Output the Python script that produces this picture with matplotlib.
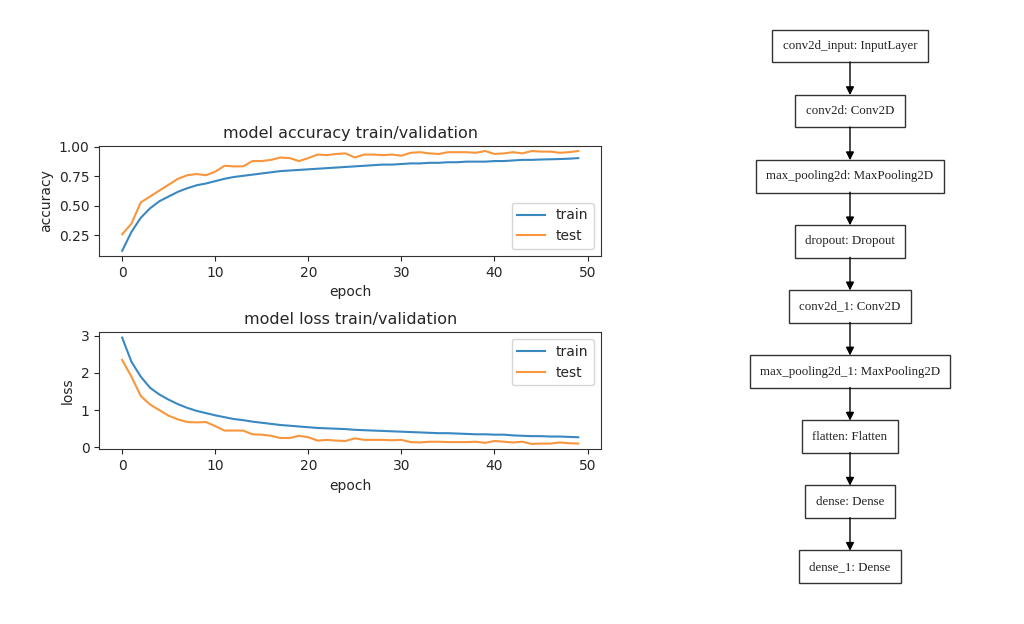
"""
Training history (accuracy / loss) next to the layer graph of the model.
"""
import numpy as np
import matplotlib.pyplot as plt

epochs = np.arange(50)

acc_train = [0.12, 0.28, 0.40, 0.48, 0.54, 0.58, 0.62, 0.65, 0.675, 0.69,
             0.71, 0.73, 0.745, 0.755, 0.765, 0.775, 0.785, 0.795, 0.80, 0.805,
             0.81, 0.815, 0.82, 0.825, 0.83, 0.835, 0.84, 0.845, 0.85, 0.85,
             0.855, 0.86, 0.86, 0.865, 0.865, 0.87, 0.87, 0.875, 0.875, 0.875,
             0.88, 0.88, 0.885, 0.89, 0.89, 0.893, 0.895, 0.897, 0.90, 0.905]
acc_test = [0.26, 0.35, 0.53, 0.58, 0.63, 0.68, 0.73, 0.76, 0.77, 0.76,
            0.79, 0.84, 0.835, 0.835, 0.88, 0.88, 0.89, 0.91, 0.905, 0.88,
            0.905, 0.935, 0.93, 0.94, 0.945, 0.91, 0.935, 0.935, 0.93, 0.935,
            0.925, 0.95, 0.955, 0.945, 0.94, 0.955, 0.955, 0.955, 0.95, 0.965,
            0.94, 0.945, 0.955, 0.945, 0.965, 0.96, 0.96, 0.95, 0.955, 0.965]
loss_train = [2.95, 2.30, 1.90, 1.60, 1.42, 1.28, 1.16, 1.06, 0.98, 0.92,
              0.86, 0.81, 0.76, 0.73, 0.69, 0.66, 0.63, 0.60, 0.58, 0.56,
              0.54, 0.52, 0.51, 0.50, 0.49, 0.47, 0.46, 0.45, 0.44, 0.43,
              0.42, 0.41, 0.40, 0.39, 0.38, 0.38, 0.37, 0.36, 0.35, 0.35,
              0.34, 0.34, 0.32, 0.31, 0.30, 0.30, 0.29, 0.29, 0.28, 0.27]
loss_test = [2.35, 1.90, 1.38, 1.15, 1.00, 0.85, 0.75, 0.68, 0.67, 0.68,
             0.57, 0.45, 0.45, 0.45, 0.35, 0.34, 0.31, 0.25, 0.25, 0.31,
             0.27, 0.18, 0.20, 0.18, 0.17, 0.24, 0.20, 0.20, 0.20, 0.19,
             0.20, 0.14, 0.13, 0.15, 0.15, 0.14, 0.14, 0.14, 0.15, 0.12,
             0.17, 0.15, 0.13, 0.15, 0.09, 0.10, 0.10, 0.13, 0.11, 0.10]

layers = ["conv2d_input: InputLayer", "conv2d: Conv2D",
          "max_pooling2d: MaxPooling2D", "dropout: Dropout",
          "conv2d_1: Conv2D", "max_pooling2d_1: MaxPooling2D",
          "flatten: Flatten", "dense: Dense", "dense_1: Dense"]

plt.rcParams["font.size"] = 10
plt.rcParams["text.color"] = "#262626"
plt.rcParams["axes.labelcolor"] = "#262626"
plt.rcParams["xtick.color"] = "#262626"
plt.rcParams["ytick.color"] = "#262626"
plt.rcParams["axes.edgecolor"] = "#333333"

blue = "#3a88c2"
orange = "#f8963e"

fig = plt.figure(figsize=(10.24, 6.24), dpi=100)

#accuracy plot
ax1 = fig.add_axes([0.097, 0.590, 0.490, 0.176])
ax1.plot(epochs, acc_train, color=blue, label="train")
ax1.plot(epochs, acc_test, color=orange, label="test")
ax1.set_title("model accuracy train/validation", fontsize=11.5)
ax1.set_ylabel("accuracy")
ax1.set_xlabel("epoch")
ax1.set_yticks([0.25, 0.5, 0.75, 1.0])
ax1.legend(loc="lower right")

#loss plot
ax2 = fig.add_axes([0.097, 0.280, 0.490, 0.1875])
ax2.plot(epochs, loss_train, color=blue, label="train")
ax2.plot(epochs, loss_test, color=orange, label="test")
ax2.set_title("model loss train/validation", fontsize=11.5)
ax2.set_ylabel("loss")
ax2.set_xlabel("epoch")
ax2.set_yticks([0, 1, 2, 3])
ax2.legend(loc="upper right")

#model graph, drawn in pixel coordinates
axg = fig.add_axes([0, 0, 1, 1])
axg.set_xlim(0, 1024)
axg.set_ylim(624, 0)
axg.axis("off")

cx = 850
step = 65.1
half = 16
for i, name in enumerate(layers):
    cy = 46 + i * step
    axg.text(cx, cy, name, ha="center", va="center", fontsize=9.3,
             family="Liberation Serif", color="#222222",
             bbox=dict(boxstyle="square,pad=0.8", fc="white", ec="#333333", lw=1))
    if i < len(layers) - 1:
        axg.annotate("", xy=(cx, cy + step - half), xytext=(cx, cy + half),
                     arrowprops=dict(arrowstyle="-|>", color="black", lw=1,
                                     mutation_scale=12, shrinkA=0, shrinkB=0))

plt.savefig("out.png", dpi=100)
